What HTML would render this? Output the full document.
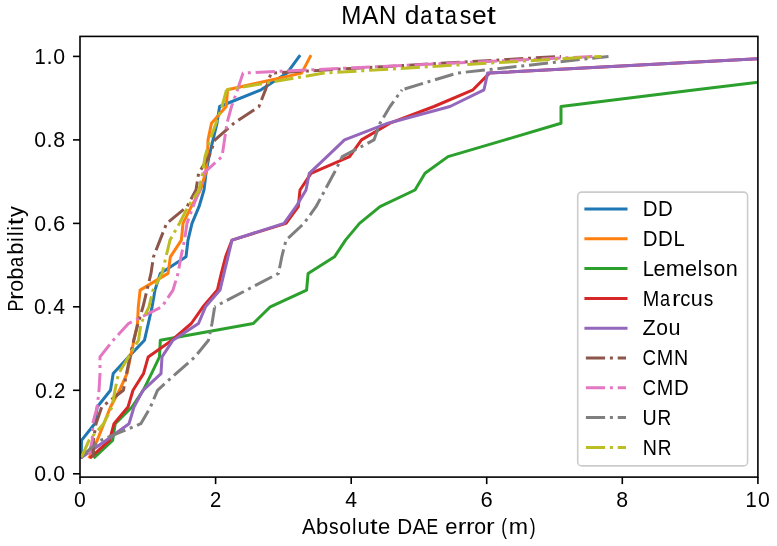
<!DOCTYPE html>
<html><head><meta charset="utf-8"><style>
html,body{margin:0;padding:0;background:#fff;}
body{width:777px;height:546px;overflow:hidden;}
svg{display:block;will-change:transform;filter:blur(0.35px);}
.t{font-family:"Liberation Sans",sans-serif;font-size:20px;fill:#000;}
</style></head><body>
<svg width="777" height="546" viewBox="0 0 777 546">
<rect x="0" y="0" width="777" height="546" fill="#fff"/>
<defs><clipPath id="ax"><rect x="80.0" y="36.4" width="677.9" height="440.7"/></clipPath></defs>
<g clip-path="url(#ax)" fill="none" stroke-width="3.00" stroke-linejoin="round" stroke-linecap="butt">
<polyline points="81.2,457.1 81.5,440.4 94.7,423.7 97.2,407.0 110.5,390.3 113.2,373.6 128.5,356.9 144.5,340.2 148.3,323.5 152.1,306.8 155.0,290.1 160.3,273.4 186.0,256.8 188.0,240.1 192.0,223.4 199.0,206.7 204.0,190.0 206.0,173.3 209.0,156.6 213.0,139.9 217.0,123.2 219.6,106.5 261.0,89.8 287.0,73.1 299.3,56.4" stroke="#1f77b4" stroke-linecap="square"/>
<polyline points="89.5,457.1 97.2,440.4 103.8,423.7 110.5,407.0 119.5,390.3 127.0,373.6 130.5,356.9 134.0,340.2 137.5,323.5 138.3,306.8 140.1,290.1 168.0,273.4 170.4,256.8 181.4,240.1 183.0,223.4 191.3,206.7 200.4,190.0 205.5,173.3 207.5,156.6 208.0,139.9 211.5,123.2 226.2,106.5 227.6,89.8 301.6,73.1 310.3,56.4" stroke="#ff7f0e" stroke-linecap="square"/>
<polyline points="94.7,457.1 112.6,440.4 115.2,423.7 132.0,407.0 143.2,390.3 151.5,373.6 159.5,356.9 160.3,340.2 253.3,323.5 270.3,306.8 306.6,290.1 308.1,273.4 334.5,256.8 345.5,240.1 359.5,223.4 380.0,206.7 415.0,190.0 425.0,173.3 448.0,156.6 505.0,139.9 561.0,123.2 561.0,106.5 696.0,89.8 831.5,73.1 967.0,56.4" stroke="#2ca02c" stroke-linecap="square"/>
<polyline points="91.0,457.1 109.5,440.4 114.0,423.7 128.0,407.0 133.0,390.3 143.5,373.6 148.2,356.9 172.0,340.2 191.3,323.5 203.0,306.8 217.4,290.1 221.3,273.4 225.6,256.8 232.0,240.1 286.0,223.4 298.3,206.7 300.0,190.0 311.0,173.3 349.6,156.6 361.5,139.9 390.0,123.2 434.0,106.5 473.0,89.8 489.5,73.1 800.0,56.4" stroke="#d62728" stroke-linecap="square"/>
<polyline points="82.0,457.1 106.0,440.4 129.0,423.7 134.0,407.0 143.0,390.3 161.0,373.6 162.0,356.9 173.0,340.2 198.5,323.5 205.5,306.8 220.0,290.1 224.0,273.4 228.0,256.8 232.0,240.1 284.0,223.4 296.0,206.7 306.0,190.0 309.3,173.3 327.0,156.6 344.5,139.9 388.0,123.2 450.0,106.5 484.0,89.8 487.6,73.1 800.0,56.4" stroke="#9467bd" stroke-linecap="square"/>
<polyline points="93.4,457.1 93.4,440.4 96.0,423.7 101.7,407.0 123.4,390.3 126.5,373.6 130.0,356.9 133.7,340.2 138.0,323.5 143.0,306.8 147.0,290.1 151.0,273.4 153.5,256.8 160.0,240.1 166.6,223.4 187.0,206.7 196.0,190.0 198.6,173.3 209.0,156.6 215.0,139.9 234.0,123.2 259.0,106.5 265.5,89.8 271.0,73.1" stroke="#8c564b" stroke-dasharray="19.2 4.8 3 4.8" stroke-dashoffset="0.00"/>
<polyline points="271.0,73.1 561.0,56.4" stroke="#8c564b" stroke-dasharray="19.2 4.8 3 4.8" stroke-dashoffset="20.90"/>
<polyline points="88.3,457.1 92.3,440.4 92.7,423.7 97.2,407.0 99.0,390.3 100.0,373.6 100.0,356.9 113.2,340.2 128.5,323.5 162.0,306.8 173.0,290.1 178.0,273.4 181.0,256.8 184.5,240.1 187.0,223.4 193.0,206.7 199.5,190.0 203.5,173.3 222.0,156.6 224.5,139.9 227.0,123.2 231.5,106.5 237.5,89.8 243.0,73.1 595.0,56.4" stroke="#e377c2" stroke-dasharray="19.2 4.8 3 4.8" stroke-dashoffset="29.20"/>
<polyline points="80.5,457.1 100.4,440.4 140.8,423.7 150.5,407.0 157.5,390.3 176.0,373.6 195.0,356.9 208.5,340.2 212.0,323.5 214.7,306.8" stroke="#7f7f7f" stroke-dasharray="19.2 4.8 3 4.8" stroke-dashoffset="29.80"/>
<polyline points="214.7,306.8 246.5,290.1 278.5,273.4 281.8,256.8 286.0,240.1 304.0,223.4 316.0,206.7 325.0,190.0 334.0,173.3 342.3,156.6 374.0,139.9 380.0,123.2 390.0,106.5 402.0,89.8" stroke="#7f7f7f" stroke-dasharray="19.2 4.8 3 4.8" stroke-dashoffset="18.06"/>
<polyline points="402.0,89.8 457.0,73.1 608.5,56.4" stroke="#7f7f7f" stroke-dasharray="19.2 4.8 3 4.8" stroke-dashoffset="29.09"/>
<polyline points="81.5,457.1 89.0,440.4 103.6,423.7 112.0,407.0 115.0,390.3 118.5,373.6 128.5,356.9 138.5,340.2 141.0,323.5 149.0,306.8 153.0,290.1 162.0,273.4 166.0,256.8 170.0,240.1 179.4,223.4 188.0,206.7 199.0,190.0 202.5,173.3 205.0,156.6 210.0,139.9 216.0,123.2 222.0,106.5 226.5,89.8" stroke="#bcbd22" stroke-dasharray="19.2 4.8 3 4.8" stroke-dashoffset="0.00"/>
<polyline points="226.5,89.8 324.0,73.1" stroke="#bcbd22" stroke-dasharray="19.2 4.8 3 4.8" stroke-dashoffset="14.97"/>
<polyline points="324.0,73.1 462.8,64.7" stroke="#bcbd22" stroke-dasharray="19.2 4.8 3 4.8" stroke-dashoffset="18.48"/>
<polyline points="462.8,64.7 601.6,56.4" stroke="#bcbd22" stroke-dasharray="19.2 4.8 3 4.8" stroke-dashoffset="27.34"/>
</g>
<rect x="577.7" y="192.1" width="169.9" height="273.8" rx="4" ry="4" fill="#fff" fill-opacity="0.8" stroke="#cccccc" stroke-width="1.6"/>
<line x1="585.9" y1="209.0" x2="626.0" y2="209.0" stroke="#1f77b4" stroke-width="3.0" stroke-linecap="square"/>
<text x="642.66" y="216.20" textLength="14.81" lengthAdjust="spacingAndGlyphs" style="font-size:21.40px" class="t">D</text><text x="658.06" y="216.20" textLength="14.81" lengthAdjust="spacingAndGlyphs" style="font-size:21.40px" class="t">D</text>
<line x1="585.9" y1="238.8" x2="626.0" y2="238.8" stroke="#ff7f0e" stroke-width="3.0" stroke-linecap="square"/>
<text x="642.66" y="246.00" textLength="14.81" lengthAdjust="spacingAndGlyphs" style="font-size:21.40px" class="t">D</text><text x="658.06" y="246.00" textLength="14.81" lengthAdjust="spacingAndGlyphs" style="font-size:21.40px" class="t">D</text><text x="673.48" y="246.00" textLength="11.25" lengthAdjust="spacingAndGlyphs" style="font-size:21.40px" class="t">L</text>
<line x1="585.9" y1="268.6" x2="626.0" y2="268.6" stroke="#2ca02c" stroke-width="3.0" stroke-linecap="square"/>
<text x="642.68" y="275.80" textLength="11.25" lengthAdjust="spacingAndGlyphs" style="font-size:21.40px" class="t">L</text><text x="653.56" y="275.80" textLength="12.08" lengthAdjust="spacingAndGlyphs" style="font-size:21.40px" class="t">e</text><text x="665.71" y="275.80" textLength="19.04" lengthAdjust="spacingAndGlyphs" style="font-size:21.40px" class="t">m</text><text x="685.00" y="275.80" textLength="12.08" lengthAdjust="spacingAndGlyphs" style="font-size:21.40px" class="t">e</text><text x="697.78" y="275.80" textLength="4.44" lengthAdjust="spacingAndGlyphs" style="font-size:21.40px" class="t">l</text><text x="703.27" y="275.80" textLength="9.54" lengthAdjust="spacingAndGlyphs" style="font-size:21.40px" class="t">s</text><text x="713.42" y="275.80" textLength="11.71" lengthAdjust="spacingAndGlyphs" style="font-size:21.40px" class="t">o</text><text x="725.79" y="275.80" textLength="12.04" lengthAdjust="spacingAndGlyphs" style="font-size:21.40px" class="t">n</text>
<line x1="585.9" y1="298.4" x2="626.0" y2="298.4" stroke="#d62728" stroke-width="3.0" stroke-linecap="square"/>
<text x="642.71" y="305.60" textLength="16.54" lengthAdjust="spacingAndGlyphs" style="font-size:21.40px" class="t">M</text><text x="659.94" y="305.60" textLength="10.03" lengthAdjust="spacingAndGlyphs" style="font-size:21.40px" class="t">a</text><text x="671.95" y="305.60" textLength="8.53" lengthAdjust="spacingAndGlyphs" style="font-size:21.40px" class="t">r</text><text x="680.23" y="305.60" textLength="10.12" lengthAdjust="spacingAndGlyphs" style="font-size:21.40px" class="t">c</text><text x="690.89" y="305.60" textLength="12.04" lengthAdjust="spacingAndGlyphs" style="font-size:21.40px" class="t">u</text><text x="703.80" y="305.60" textLength="9.54" lengthAdjust="spacingAndGlyphs" style="font-size:21.40px" class="t">s</text>
<line x1="585.9" y1="328.2" x2="626.0" y2="328.2" stroke="#9467bd" stroke-width="3.0" stroke-linecap="square"/>
<text x="642.55" y="335.40" textLength="13.22" lengthAdjust="spacingAndGlyphs" style="font-size:21.40px" class="t">Z</text><text x="656.26" y="335.40" textLength="11.71" lengthAdjust="spacingAndGlyphs" style="font-size:21.40px" class="t">o</text><text x="668.53" y="335.40" textLength="12.04" lengthAdjust="spacingAndGlyphs" style="font-size:21.40px" class="t">u</text>
<line x1="585.9" y1="358.0" x2="626.0" y2="358.0" stroke="#8c564b" stroke-width="3.0" stroke-dasharray="19.2 4.8 3 4.8"/>
<text x="642.46" y="365.20" textLength="13.53" lengthAdjust="spacingAndGlyphs" style="font-size:21.40px" class="t">C</text><text x="656.68" y="365.20" textLength="16.54" lengthAdjust="spacingAndGlyphs" style="font-size:21.40px" class="t">M</text><text x="673.95" y="365.20" textLength="14.19" lengthAdjust="spacingAndGlyphs" style="font-size:21.40px" class="t">N</text>
<line x1="585.9" y1="387.8" x2="626.0" y2="387.8" stroke="#e377c2" stroke-width="3.0" stroke-dasharray="19.2 4.8 3 4.8"/>
<text x="642.46" y="395.00" textLength="13.53" lengthAdjust="spacingAndGlyphs" style="font-size:21.40px" class="t">C</text><text x="656.68" y="395.00" textLength="16.54" lengthAdjust="spacingAndGlyphs" style="font-size:21.40px" class="t">M</text><text x="673.88" y="395.00" textLength="14.81" lengthAdjust="spacingAndGlyphs" style="font-size:21.40px" class="t">D</text>
<line x1="585.9" y1="417.6" x2="626.0" y2="417.6" stroke="#7f7f7f" stroke-width="3.0" stroke-dasharray="19.2 4.8 3 4.8"/>
<text x="642.53" y="424.80" textLength="14.19" lengthAdjust="spacingAndGlyphs" style="font-size:21.40px" class="t">U</text><text x="657.42" y="424.80" textLength="13.72" lengthAdjust="spacingAndGlyphs" style="font-size:21.40px" class="t">R</text>
<line x1="585.9" y1="447.4" x2="626.0" y2="447.4" stroke="#bcbd22" stroke-width="3.0" stroke-dasharray="19.2 4.8 3 4.8"/>
<text x="642.73" y="454.60" textLength="14.19" lengthAdjust="spacingAndGlyphs" style="font-size:21.40px" class="t">N</text><text x="657.74" y="454.60" textLength="13.72" lengthAdjust="spacingAndGlyphs" style="font-size:21.40px" class="t">R</text>
<rect x="80.0" y="36.4" width="677.9" height="440.7" fill="none" stroke="#000" stroke-width="1.6" stroke-linejoin="miter"/>
<line x1="80.0" y1="477.1" x2="80.0" y2="484.1" stroke="#000" stroke-width="1.6"/>
<text x="74.10" y="506.60" textLength="11.83" lengthAdjust="spacingAndGlyphs" style="font-size:21.40px" class="t">0</text>
<line x1="215.6" y1="477.1" x2="215.6" y2="484.1" stroke="#000" stroke-width="1.6"/>
<text x="209.97" y="506.60" textLength="11.25" lengthAdjust="spacingAndGlyphs" style="font-size:21.40px" class="t">2</text>
<line x1="351.2" y1="477.1" x2="351.2" y2="484.1" stroke="#000" stroke-width="1.6"/>
<text x="345.33" y="506.60" textLength="11.79" lengthAdjust="spacingAndGlyphs" style="font-size:21.40px" class="t">4</text>
<line x1="486.7" y1="477.1" x2="486.7" y2="484.1" stroke="#000" stroke-width="1.6"/>
<text x="480.59" y="506.60" textLength="12.21" lengthAdjust="spacingAndGlyphs" style="font-size:21.40px" class="t">6</text>
<line x1="622.3" y1="477.1" x2="622.3" y2="484.1" stroke="#000" stroke-width="1.6"/>
<text x="616.36" y="506.60" textLength="11.83" lengthAdjust="spacingAndGlyphs" style="font-size:21.40px" class="t">8</text>
<line x1="757.9" y1="477.1" x2="757.9" y2="484.1" stroke="#000" stroke-width="1.6"/>
<text x="745.43" y="506.60" textLength="11.25" lengthAdjust="spacingAndGlyphs" style="font-size:21.40px" class="t">1</text><text x="757.92" y="506.60" textLength="11.83" lengthAdjust="spacingAndGlyphs" style="font-size:21.40px" class="t">0</text>
<line x1="73.0" y1="473.8" x2="80.0" y2="473.8" stroke="#000" stroke-width="1.6"/>
<text x="34.25" y="481.10" textLength="11.83" lengthAdjust="spacingAndGlyphs" style="font-size:21.40px" class="t">0</text><text x="46.64" y="481.10" textLength="6.14" lengthAdjust="spacingAndGlyphs" style="font-size:21.40px" class="t">.</text><text x="53.33" y="481.10" textLength="11.83" lengthAdjust="spacingAndGlyphs" style="font-size:21.40px" class="t">0</text>
<line x1="73.0" y1="390.3" x2="80.0" y2="390.3" stroke="#000" stroke-width="1.6"/>
<text x="34.95" y="397.62" textLength="11.83" lengthAdjust="spacingAndGlyphs" style="font-size:21.40px" class="t">0</text><text x="47.34" y="397.62" textLength="6.14" lengthAdjust="spacingAndGlyphs" style="font-size:21.40px" class="t">.</text><text x="54.07" y="397.62" textLength="11.25" lengthAdjust="spacingAndGlyphs" style="font-size:21.40px" class="t">2</text>
<line x1="73.0" y1="306.8" x2="80.0" y2="306.8" stroke="#000" stroke-width="1.6"/>
<text x="34.05" y="314.14" textLength="11.83" lengthAdjust="spacingAndGlyphs" style="font-size:21.40px" class="t">0</text><text x="46.44" y="314.14" textLength="6.14" lengthAdjust="spacingAndGlyphs" style="font-size:21.40px" class="t">.</text><text x="53.15" y="314.14" textLength="11.79" lengthAdjust="spacingAndGlyphs" style="font-size:21.40px" class="t">4</text>
<line x1="73.0" y1="223.4" x2="80.0" y2="223.4" stroke="#000" stroke-width="1.6"/>
<text x="34.15" y="230.66" textLength="11.83" lengthAdjust="spacingAndGlyphs" style="font-size:21.40px" class="t">0</text><text x="46.54" y="230.66" textLength="6.14" lengthAdjust="spacingAndGlyphs" style="font-size:21.40px" class="t">.</text><text x="53.08" y="230.66" textLength="12.21" lengthAdjust="spacingAndGlyphs" style="font-size:21.40px" class="t">6</text>
<line x1="73.0" y1="139.9" x2="80.0" y2="139.9" stroke="#000" stroke-width="1.6"/>
<text x="34.25" y="147.18" textLength="11.83" lengthAdjust="spacingAndGlyphs" style="font-size:21.40px" class="t">0</text><text x="46.64" y="147.18" textLength="6.14" lengthAdjust="spacingAndGlyphs" style="font-size:21.40px" class="t">.</text><text x="53.33" y="147.18" textLength="11.83" lengthAdjust="spacingAndGlyphs" style="font-size:21.40px" class="t">8</text>
<line x1="73.0" y1="56.4" x2="80.0" y2="56.4" stroke="#000" stroke-width="1.6"/>
<text x="34.48" y="63.70" textLength="11.25" lengthAdjust="spacingAndGlyphs" style="font-size:21.40px" class="t">1</text><text x="46.64" y="63.70" textLength="6.14" lengthAdjust="spacingAndGlyphs" style="font-size:21.40px" class="t">.</text><text x="53.33" y="63.70" textLength="11.83" lengthAdjust="spacingAndGlyphs" style="font-size:21.40px" class="t">0</text>
<text x="341.37" y="24.30" textLength="20.10" lengthAdjust="spacingAndGlyphs" style="font-size:25.68px" class="t">M</text><text x="361.96" y="24.30" textLength="16.34" lengthAdjust="spacingAndGlyphs" style="font-size:25.68px" class="t">A</text><text x="378.99" y="24.30" textLength="17.24" lengthAdjust="spacingAndGlyphs" style="font-size:25.68px" class="t">N</text><text x="404.66" y="24.30" textLength="14.72" lengthAdjust="spacingAndGlyphs" style="font-size:25.68px" class="t">d</text><text x="420.28" y="24.30" textLength="12.19" lengthAdjust="spacingAndGlyphs" style="font-size:25.68px" class="t">a</text><text x="434.82" y="24.30" textLength="9.14" lengthAdjust="spacingAndGlyphs" style="font-size:25.68px" class="t">t</text><text x="444.70" y="24.30" textLength="12.19" lengthAdjust="spacingAndGlyphs" style="font-size:25.68px" class="t">a</text><text x="459.77" y="24.30" textLength="11.59" lengthAdjust="spacingAndGlyphs" style="font-size:25.68px" class="t">s</text><text x="471.94" y="24.30" textLength="14.68" lengthAdjust="spacingAndGlyphs" style="font-size:25.68px" class="t">e</text><text x="486.86" y="24.30" textLength="9.14" lengthAdjust="spacingAndGlyphs" style="font-size:25.68px" class="t">t</text>
<text x="301.90" y="534.00" textLength="13.62" lengthAdjust="spacingAndGlyphs" style="font-size:21.40px" class="t">A</text><text x="316.05" y="534.00" textLength="12.27" lengthAdjust="spacingAndGlyphs" style="font-size:21.40px" class="t">b</text><text x="329.05" y="534.00" textLength="9.66" lengthAdjust="spacingAndGlyphs" style="font-size:21.40px" class="t">s</text><text x="339.34" y="534.00" textLength="11.86" lengthAdjust="spacingAndGlyphs" style="font-size:21.40px" class="t">o</text><text x="352.08" y="534.00" textLength="4.50" lengthAdjust="spacingAndGlyphs" style="font-size:21.40px" class="t">l</text><text x="357.40" y="534.00" textLength="12.20" lengthAdjust="spacingAndGlyphs" style="font-size:21.40px" class="t">u</text><text x="370.04" y="534.00" textLength="7.62" lengthAdjust="spacingAndGlyphs" style="font-size:21.40px" class="t">t</text><text x="378.01" y="534.00" textLength="12.24" lengthAdjust="spacingAndGlyphs" style="font-size:21.40px" class="t">e</text><text x="397.16" y="534.00" textLength="15.00" lengthAdjust="spacingAndGlyphs" style="font-size:21.40px" class="t">D</text><text x="412.50" y="534.00" textLength="13.62" lengthAdjust="spacingAndGlyphs" style="font-size:21.40px" class="t">A</text><text x="426.53" y="534.00" textLength="11.66" lengthAdjust="spacingAndGlyphs" style="font-size:21.40px" class="t">E</text><text x="445.27" y="534.00" textLength="12.24" lengthAdjust="spacingAndGlyphs" style="font-size:21.40px" class="t">e</text><text x="457.75" y="534.00" textLength="8.64" lengthAdjust="spacingAndGlyphs" style="font-size:21.40px" class="t">r</text><text x="466.08" y="534.00" textLength="8.64" lengthAdjust="spacingAndGlyphs" style="font-size:21.40px" class="t">r</text><text x="474.17" y="534.00" textLength="11.86" lengthAdjust="spacingAndGlyphs" style="font-size:21.40px" class="t">o</text><text x="486.00" y="534.00" textLength="8.64" lengthAdjust="spacingAndGlyphs" style="font-size:21.40px" class="t">r</text><text x="501.33" y="534.00" textLength="5.73" lengthAdjust="spacingAndGlyphs" style="font-size:21.40px" class="t">(</text><text x="508.86" y="534.00" textLength="19.29" lengthAdjust="spacingAndGlyphs" style="font-size:21.40px" class="t">m</text><text x="529.72" y="534.00" textLength="5.84" lengthAdjust="spacingAndGlyphs" style="font-size:21.40px" class="t">)</text>
<g transform="translate(22.7,0) rotate(-90)"><text x="-311.62" y="0.00" textLength="11.82" lengthAdjust="spacingAndGlyphs" style="font-size:21.40px" class="t">P</text><text x="-299.91" y="0.00" textLength="8.60" lengthAdjust="spacingAndGlyphs" style="font-size:21.40px" class="t">r</text><text x="-291.85" y="0.00" textLength="11.81" lengthAdjust="spacingAndGlyphs" style="font-size:21.40px" class="t">o</text><text x="-279.82" y="0.00" textLength="12.22" lengthAdjust="spacingAndGlyphs" style="font-size:21.40px" class="t">b</text><text x="-267.01" y="0.00" textLength="10.12" lengthAdjust="spacingAndGlyphs" style="font-size:21.40px" class="t">a</text><text x="-254.65" y="0.00" textLength="12.22" lengthAdjust="spacingAndGlyphs" style="font-size:21.40px" class="t">b</text><text x="-241.63" y="0.00" textLength="4.48" lengthAdjust="spacingAndGlyphs" style="font-size:21.40px" class="t">i</text><text x="-236.03" y="0.00" textLength="4.48" lengthAdjust="spacingAndGlyphs" style="font-size:21.40px" class="t">l</text><text x="-230.42" y="0.00" textLength="4.48" lengthAdjust="spacingAndGlyphs" style="font-size:21.40px" class="t">i</text><text x="-225.33" y="0.00" textLength="7.58" lengthAdjust="spacingAndGlyphs" style="font-size:21.40px" class="t">t</text><text x="-217.01" y="0.00" textLength="10.91" lengthAdjust="spacingAndGlyphs" style="font-size:21.40px" class="t">y</text></g>
</svg>
</body></html>
